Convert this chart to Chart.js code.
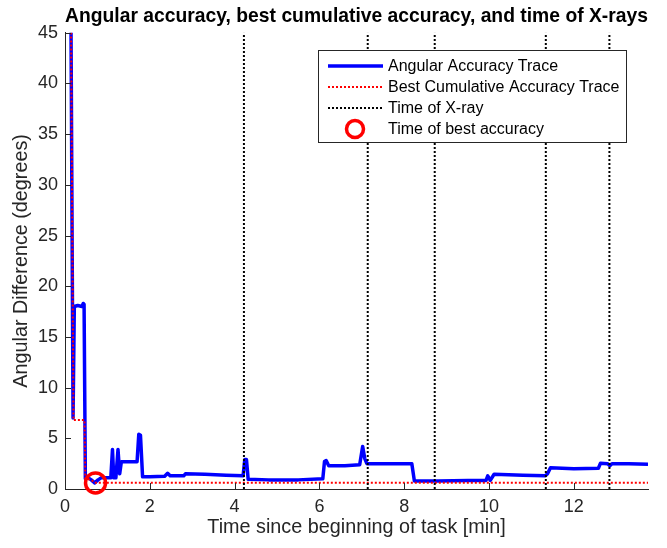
<!DOCTYPE html>
<html lang="en">
<head>
<meta charset="UTF-8">
<title>Angular accuracy, best cumulative accuracy, and time of X-rays</title>
<script src="https://cdn.jsdelivr.net/npm/chart.js"></script>
<style>
  html, body { margin: 0; padding: 0; background: #fff; }
</style>
</head>
<body>
<canvas id="accChart" width="667" height="548"></canvas>
<script>
// angular accuracy trace: time [min] / difference [deg]
const traceTimes = [0.14, 0.19, 0.22, 0.30, 0.40, 0.43, 0.45, 0.48, 0.55, 0.62, 0.70, 0.78, 0.85,
  1.08, 1.12, 1.15, 1.20, 1.25, 1.29, 1.33, 1.50, 1.70, 1.74, 1.78, 1.83, 2.00, 2.35, 2.42, 2.48,
  2.80, 2.84, 3.30, 3.80, 4.20, 4.24, 4.28, 4.32, 4.80, 5.50, 6.08, 6.12, 6.16, 6.22, 6.60, 6.95,
  7.02, 7.07, 7.12, 7.50, 8.18, 8.24, 8.80, 9.50, 9.93, 9.97, 10.03, 10.12, 10.80, 11.33, 11.38,
  11.45, 12.00, 12.58, 12.63, 12.80, 12.85, 12.90, 13.30, 13.75];
const traceValues = [47, 7.0, 18.0, 18.1, 18.0, 18.3, 18.2, 1.0, 1.1, 0.9, 0.6, 0.9, 1.1,
  1.1, 3.9, 1.1, 1.1, 3.9, 1.5, 2.7, 2.7, 2.7, 5.4, 5.3, 1.2, 1.2, 1.25, 1.55, 1.3,
  1.3, 1.5, 1.45, 1.35, 1.3, 2.9, 2.9, 0.95, 0.9, 0.9, 1.0, 2.7, 2.8, 2.3, 2.3, 2.4,
  4.2, 3.0, 2.5, 2.5, 2.5, 0.8, 0.8, 0.85, 0.85, 1.3, 0.85, 1.45, 1.35, 1.3, 1.5,
  2.1, 2.0, 2.05, 2.55, 2.5, 2.3, 2.5, 2.5, 2.45];

// best cumulative accuracy trace
const bestTimes = [0.14, 0.20, 0.46, 0.48, 0.62, 0.70, 13.75];
const bestValues = [47, 6.8, 6.8, 1.0, 0.9, 0.62, 0.62];

// X-ray times [min]
const xrayTimes = [4.22, 7.14, 8.72, 11.34, 12.84];

// time of best accuracy
const bestAccTime = 0.72;
const bestAccValue = 0.6;

const xTickValues = [0, 2, 4, 6, 8, 10, 12];
const yTickValues = [0, 5, 10, 15, 20, 25, 30, 35, 40, 45];

const FONT = "'Liberation Sans', Arial, Helvetica, sans-serif";
const AXIS_COLOR = '#262626';

const xrayData = [];
xrayTimes.forEach(t => {
  xrayData.push({x: t, y: 0}, {x: t, y: 45}, {x: t, y: null});
});

// MATLAB style ticks pointing into the plot
const insideTicks = {
  id: 'insideTicks',
  afterDatasetsDraw(chart) {
    const ctx = chart.ctx, area = chart.chartArea;
    const xs = chart.scales.x, ys = chart.scales.y;
    ctx.save();
    ctx.strokeStyle = AXIS_COLOR;
    ctx.lineWidth = 1;
    ctx.beginPath();
    xTickValues.forEach(v => {
      const px = Math.round(xs.getPixelForValue(v)) + 0.5;
      ctx.moveTo(px, area.bottom);
      ctx.lineTo(px, area.bottom - 6);
    });
    yTickValues.forEach(v => {
      const py = Math.round(ys.getPixelForValue(v)) + 0.5;
      ctx.moveTo(area.left, py);
      ctx.lineTo(area.left + 6, py);
    });
    ctx.stroke();
    ctx.restore();
  }
};

// boxed legend inside the axes, top right
const boxLegend = {
  id: 'boxLegend',
  afterDraw(chart) {
    const ctx = chart.ctx;
    const x0 = 318, y0 = 50, w = 308, h = 92;
    ctx.save();
    ctx.fillStyle = '#fff';
    ctx.fillRect(x0, y0, w, h);
    ctx.strokeStyle = AXIS_COLOR;
    ctx.lineWidth = 1;
    ctx.strokeRect(x0 + 0.5, y0 + 0.5, w, h);
    ctx.font = '16px ' + FONT;
    ctx.textBaseline = 'middle';
    chart.data.datasets.forEach((ds, i) => {
      const y = y0 + 16 + i * 21;
      ctx.save();
      if (ds.showLine === false) {
        ctx.strokeStyle = ds.pointBorderColor;
        ctx.lineWidth = ds.pointBorderWidth;
        ctx.beginPath();
        ctx.arc(355, y, 8.5, 0, Math.PI * 2);
        ctx.stroke();
      } else {
        ctx.strokeStyle = ds.borderColor;
        ctx.lineWidth = ds.borderWidth;
        ctx.setLineDash(ds.borderDash || []);
        ctx.beginPath();
        ctx.moveTo(328, y);
        ctx.lineTo(383, y);
        ctx.stroke();
      }
      ctx.restore();
      ctx.fillStyle = '#000';
      ctx.fillText(ds.label, 388, y + 1);
    });
    ctx.restore();
  }
};

const ctx = document.getElementById('accChart').getContext('2d');
const accChart = new Chart(ctx, {
  type: 'line',
  data: {
    datasets: [
      {
        label: 'Angular Accuracy Trace',
        data: traceTimes.map((t, i) => ({x: t, y: traceValues[i]})),
        borderColor: '#0000ff',
        borderWidth: 3.5,
        borderJoinStyle: 'round',
        pointRadius: 0,
        order: 4
      },
      {
        label: 'Best Cumulative Accuracy Trace',
        data: bestTimes.map((t, i) => ({x: t, y: bestValues[i]})),
        borderColor: '#ff0000',
        borderWidth: 2,
        borderDash: [2, 2],
        pointRadius: 0,
        order: 3
      },
      {
        label: 'Time of X-ray',
        data: xrayData,
        borderColor: '#000000',
        borderWidth: 2,
        borderDash: [2, 2],
        pointRadius: 0,
        spanGaps: false,
        order: 2
      },
      {
        label: 'Time of best accuracy',
        data: [{x: bestAccTime, y: bestAccValue}],
        showLine: false,
        pointRadius: 10,
        pointBorderWidth: 3.5,
        pointBorderColor: '#ff0000',
        pointBackgroundColor: 'rgba(0,0,0,0)',
        clip: false,
        order: 1
      }
    ]
  },
  options: {
    responsive: false,
    animation: false,
    layout: { padding: { left: 0, right: 19, top: 0, bottom: 0 } },
    plugins: {
      legend: { display: false },
      tooltip: { enabled: false },
      title: {
        display: true,
        text: 'Angular accuracy, best cumulative accuracy, and time of X-rays',
        fullSize: false,
        color: '#000',
        font: { family: FONT, size: 19.8, weight: 'bold' },
        padding: { top: 5, bottom: 4 }
      }
    },
    scales: {
      x: {
        type: 'linear',
        min: 0,
        max: 13.75,
        grid: { display: false, drawTicks: false },
        border: { display: true, color: AXIS_COLOR, width: 1 },
        afterBuildTicks: s => { s.ticks = xTickValues.map(v => ({value: v})); },
        afterFit: s => { s.height = 59; },
        ticks: { color: AXIS_COLOR, font: { family: FONT, size: 18 }, padding: 7, maxRotation: 0 },
        title: {
          display: true,
          text: 'Time since beginning of task [min]',
          color: AXIS_COLOR,
          font: { family: FONT, size: 19.8 },
          padding: { top: 0, bottom: 9 }
        }
      },
      y: {
        min: 0,
        max: 45,
        grid: { display: false, drawTicks: false },
        border: { display: true, color: AXIS_COLOR, width: 1 },
        afterBuildTicks: s => { s.ticks = yTickValues.map(v => ({value: v})); },
        afterFit: s => { s.width = 65; },
        ticks: { color: AXIS_COLOR, font: { family: FONT, size: 18 }, padding: 7 },
        title: {
          display: true,
          text: 'Angular Difference (degrees)',
          color: AXIS_COLOR,
          font: { family: FONT, size: 19.8 },
          padding: { top: 10, bottom: 0 }
        }
      }
    }
  },
  plugins: [insideTicks, boxLegend]
});
</script>
</body>
</html>
